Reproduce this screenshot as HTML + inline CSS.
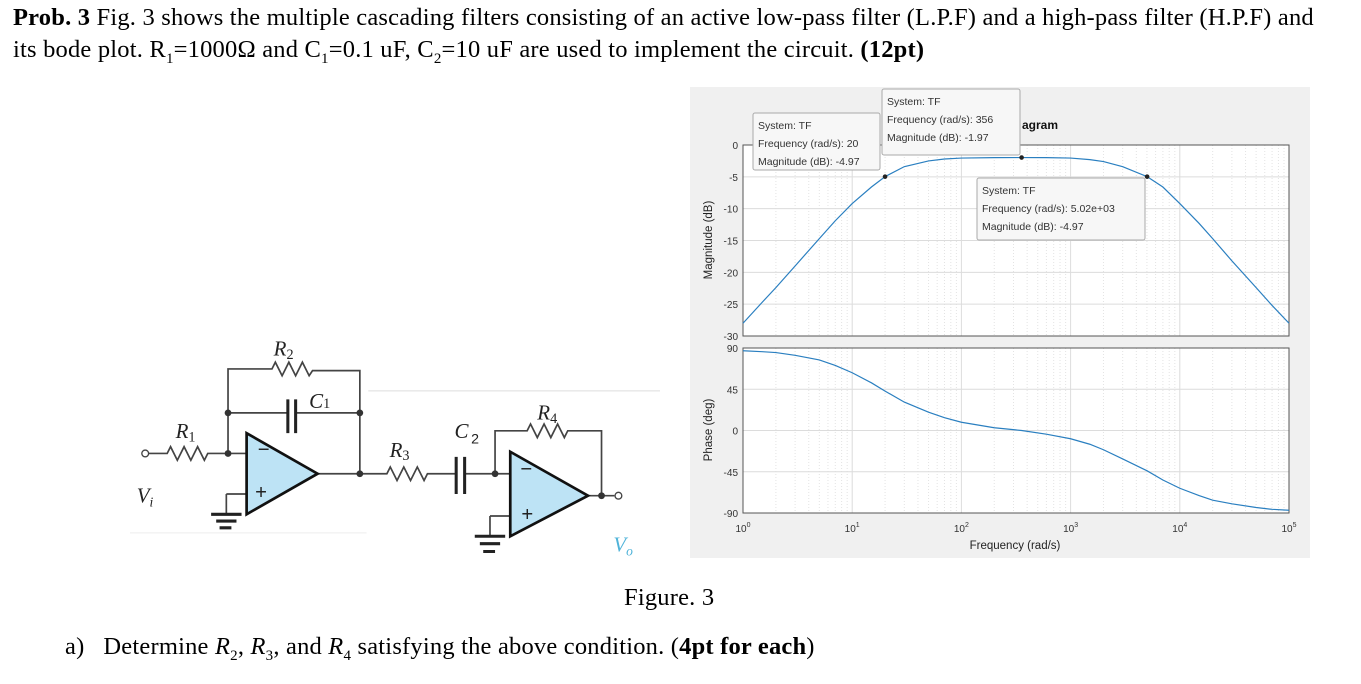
<!DOCTYPE html>
<html><head><meta charset="utf-8"><style>
body{margin:0;width:1361px;height:684px;background:#fff;position:relative;overflow:hidden;font-family:"Liberation Serif",serif;}
.t{position:absolute;white-space:nowrap;font-size:24.5px;letter-spacing:0.2px;color:#000;}
</style></head><body>
<div class="t" style="left:13px;top:4px;"><b>Prob. 3</b> Fig. 3 shows the multiple cascading filters consisting of an active low-pass filter (L.P.F) and a high-pass filter (H.P.F) and</div>
<div class="t" style="left:13px;top:36px;">its bode plot. R<sub style="font-size:15px">1</sub>=1000Ω and C<sub style="font-size:15px">1</sub>=0.1 uF, C<sub style="font-size:15px">2</sub>=10 uF are used to implement the circuit. <b>(12pt)</b></div>
<div class="t" style="left:624px;top:584px;">Figure. 3</div>
<div class="t" style="left:65px;top:633px;">a)&nbsp;&nbsp; Determine <i>R</i><sub style="font-size:15px">2</sub>, <i>R</i><sub style="font-size:15px">3</sub>, and <i>R</i><sub style="font-size:15px">4</sub> satisfying the above condition. (<b>4pt for each</b>)</div>

<svg style="position:absolute;left:130px;top:330px" width="530" height="230" viewBox="0 0 1568 680">
<g stroke="#444" stroke-width="5" fill="none">
<line x1="705" y1="180" x2="1568" y2="180" stroke="#ddd" stroke-width="3"/>
<line x1="0" y1="600" x2="700" y2="600" stroke="#eee" stroke-width="3"/>
<path d="M55 365H110 l10 -20 l20 40 l20 -40 l20 40 l20 -40 l20 40 l10 -20 H345"/>
<path d="M290 365V115H420 l10 -20 l20 40 l20 -40 l20 40 l20 -40 l20 40 l10 -15 H680V425"/>
<path d="M290 245H467M490 245H680"/>
<path d="M467 205V305M490 205V305" stroke="#222" stroke-width="9"/>
<path d="M285 485H345M285 485V545"/>
<path d="M240 545H330M255 565H315M265 585H300" stroke="#222" stroke-width="9"/>
<path d="M555 425H760 l10 -20 l20 40 l20 -40 l20 40 l20 -40 l20 40 l10 -20 H965M990 425H1125"/>
<path d="M965 375V485M990 375V485" stroke="#222" stroke-width="9"/>
<path d="M1080 425V298H1175 l10 -20 l20 40 l20 -40 l20 40 l20 -40 l20 40 l10 -20 H1395V490"/>
<path d="M1355 490H1433"/>
<path d="M1065 550H1125M1065 550V610"/>
<path d="M1020 610H1110M1035 632H1095M1045 655H1080" stroke="#222" stroke-width="9"/>
<circle cx="45" cy="365" r="10" stroke-width="4"/><circle cx="1445" cy="490" r="10" stroke-width="4"/>
</g>
<g fill="#333"><circle cx="290" cy="365" r="10"/><circle cx="290" cy="245" r="10"/><circle cx="680" cy="245" r="10"/><circle cx="680" cy="425" r="10"/><circle cx="1080" cy="425" r="10"/><circle cx="1395" cy="490" r="10"/></g>
<polygon points="345,305 345,545 555,425" fill="#bde3f5" stroke="#111" stroke-width="8"/>
<polygon points="1125,360 1125,610 1355,490" fill="#bde3f5" stroke="#111" stroke-width="8"/>
<g font-family="Liberation Serif,serif" font-style="italic" font-size="62" fill="#222">
<text x="135" y="320">R<tspan font-size="42" font-style="normal" dy="10">1</tspan></text>
<text x="425" y="75">R<tspan font-size="42" font-style="normal" dy="10">2</tspan></text>
<text x="530" y="230">C<tspan font-size="42" font-style="normal" dy="0">1</tspan></text>
<text x="768" y="375">R<tspan font-size="42" font-style="normal" dy="10">3</tspan></text>
<text x="960" y="320">C<tspan font-size="42" font-style="normal" font-family="Liberation Sans,sans-serif" dx="8" dy="15">2</tspan></text>
<text x="1205" y="265">R<tspan font-size="42" font-style="normal" dy="10">4</tspan></text>
<text x="20" y="510">V<tspan font-size="40" dy="12">i</tspan></text>
<text x="1430" y="655" fill="#4fb3d9">V<tspan font-size="40" dy="12">o</tspan></text>
</g>
<g font-family="Liberation Sans,sans-serif" font-size="60" fill="#222"><text x="378" y="372">−</text><text x="370" y="500">+</text><text x="1155" y="430">−</text><text x="1158" y="565">+</text></g>
</svg>

<svg id="bode" style="position:absolute;left:0;top:0" width="1361" height="684"></svg>
<script>
const freqs=[1,1.5,2,3,5,7,10,15,20,30,50,70,100,200,356,600,1000,1500,2000,3000,5020,7000,10000,15000,20000,30000,50000,70000,100000];
const magDb=[-28,-24.7,-22.4,-19,-14.7,-11.9,-9.2,-6.6,-4.97,-3.4,-2.5,-2.2,-2.05,-1.98,-1.97,-1.98,-2.05,-2.3,-2.6,-3.4,-4.97,-6.6,-9.2,-12.3,-14.7,-18.2,-22.4,-25.2,-28];
const phaseDeg=[87,86,85,82,77,71,63,52,43,31,20,14,9,3,0,-4,-9,-15,-21,-31,-44,-54,-63,-71,-76,-80,-84,-86,-87];
const magTicks=[0,-5,-10,-15,-20,-25,-30];
const phaseTicks=[90,45,0,-45,-90];
const decadeLabels=["0","1","2","3","4","5"];
const tips=[{f:20,m:-4.97,lines:["System: TF","Frequency (rad/s): 20","Magnitude (dB): -4.97"],bx:753,by:113,bw:127,bh:57},
{f:356,m:-1.97,lines:["System: TF","Frequency (rad/s): 356","Magnitude (dB): -1.97"],bx:882,by:89,bw:138,bh:66},
{f:5020,m:-4.97,lines:["System: TF","Frequency (rad/s): 5.02e+03","Magnitude (dB): -4.97"],bx:977,by:178,bw:168,bh:62}];
const NS="http://www.w3.org/2000/svg",svg=document.getElementById('bode');
const X0=743,X1=1289,MT=145,MB=336,PT=348,PB=513;
const x=f=>X0+Math.log10(f)*(X1-X0)/5;
const ym=d=>MT+(0-d)*(MB-MT)/30;
const yp=p=>PT+(90-p)*(PB-PT)/180;
function el(t,a,p){const e=document.createElementNS(NS,t);for(const k in a)e.setAttribute(k,a[k]);(p||svg).appendChild(e);return e;}
const bg=el('rect',{x:690,y:87,width:620,height:471,fill:'#f0f0f0'});


function panel(top,bot,ticks,yf,name,label,ly){
 const r=el('rect',{x:X0,y:top,width:X1-X0,height:bot-top,fill:'#fff'});
 
 
 for(let d=0;d<5;d++)for(let k=2;k<10;k++){const xx=x(k*Math.pow(10,d));el('line',{x1:xx,x2:xx,y1:top,y2:bot,stroke:'#e3e3e3','stroke-dasharray':'1,2'});}
 for(let d=1;d<5;d++){const xx=x(Math.pow(10,d));el('line',{x1:xx,x2:xx,y1:top,y2:bot,stroke:'#dcdcdc'});}
 ticks.forEach(v=>{const yy=yf(v);el('line',{x1:X0,x2:X1,y1:yy,y2:yy,stroke:'#dcdcdc'});
  const t=el('text',{x:X0-5,y:yy+4,'text-anchor':'end','font-size':10,fill:'#333','font-family':'Liberation Sans,sans-serif'});t.textContent=v;
  
  });
 el('rect',{x:X0,y:top,width:X1-X0,height:bot-top,fill:'none',stroke:'#555'});
 const l=el('text',{x:0,y:0,transform:`translate(712,${ly}) rotate(-90)`,'text-anchor':'middle','font-size':11.5,fill:'#222','font-family':'Liberation Sans,sans-serif'});l.textContent=label;
 
 
}
panel(MT,MB,magTicks,ym,'magnitude','Magnitude (dB)',240);
panel(PT,PB,phaseTicks,yp,'phase','Phase (deg)',430);
const ml=el('polyline',{points:freqs.map((f,i)=>x(f)+','+ym(magDb[i])).join(' '),fill:'none',stroke:'#2a7fc0','stroke-width':1.2});


const pl=el('polyline',{points:freqs.map((f,i)=>x(f)+','+yp(phaseDeg[i])).join(' '),fill:'none',stroke:'#2a7fc0','stroke-width':1.2});


decadeLabels.forEach((s,i)=>{const t=el('text',{x:X0+i*(X1-X0)/5,y:532,'text-anchor':'middle','font-size':10,fill:'#333','font-family':'Liberation Sans,sans-serif'});
 t.innerHTML='10<tspan font-size="7" dy="-5">'+s+'</tspan>';
 
 });
const xt=el('text',{x:1015,y:549,'text-anchor':'middle','font-size':11.5,fill:'#222','font-family':'Liberation Sans,sans-serif'});xt.textContent='Frequency  (rad/s)';


const ti=el('text',{x:1022,y:129,'font-size':12,'font-weight':'bold',fill:'#111','font-family':'Liberation Sans,sans-serif'});ti.textContent='agram';


tips.forEach(d=>{const g=el('g',{});
 
 
 el('rect',{x:d.bx,y:d.by,width:d.bw,height:d.bh,fill:'#f7f7f7',stroke:'#aaa',rx:2},g);
 d.lines.forEach((s,i)=>{const t=el('text',{x:d.bx+5,y:d.by+16+i*18,'font-size':10.5,fill:'#333','font-family':'Liberation Sans,sans-serif'},g);t.textContent=s;});
 el('circle',{cx:x(d.f),cy:ym(d.m),r:2.3,fill:'#222'},g);});
</script>
</body></html>
